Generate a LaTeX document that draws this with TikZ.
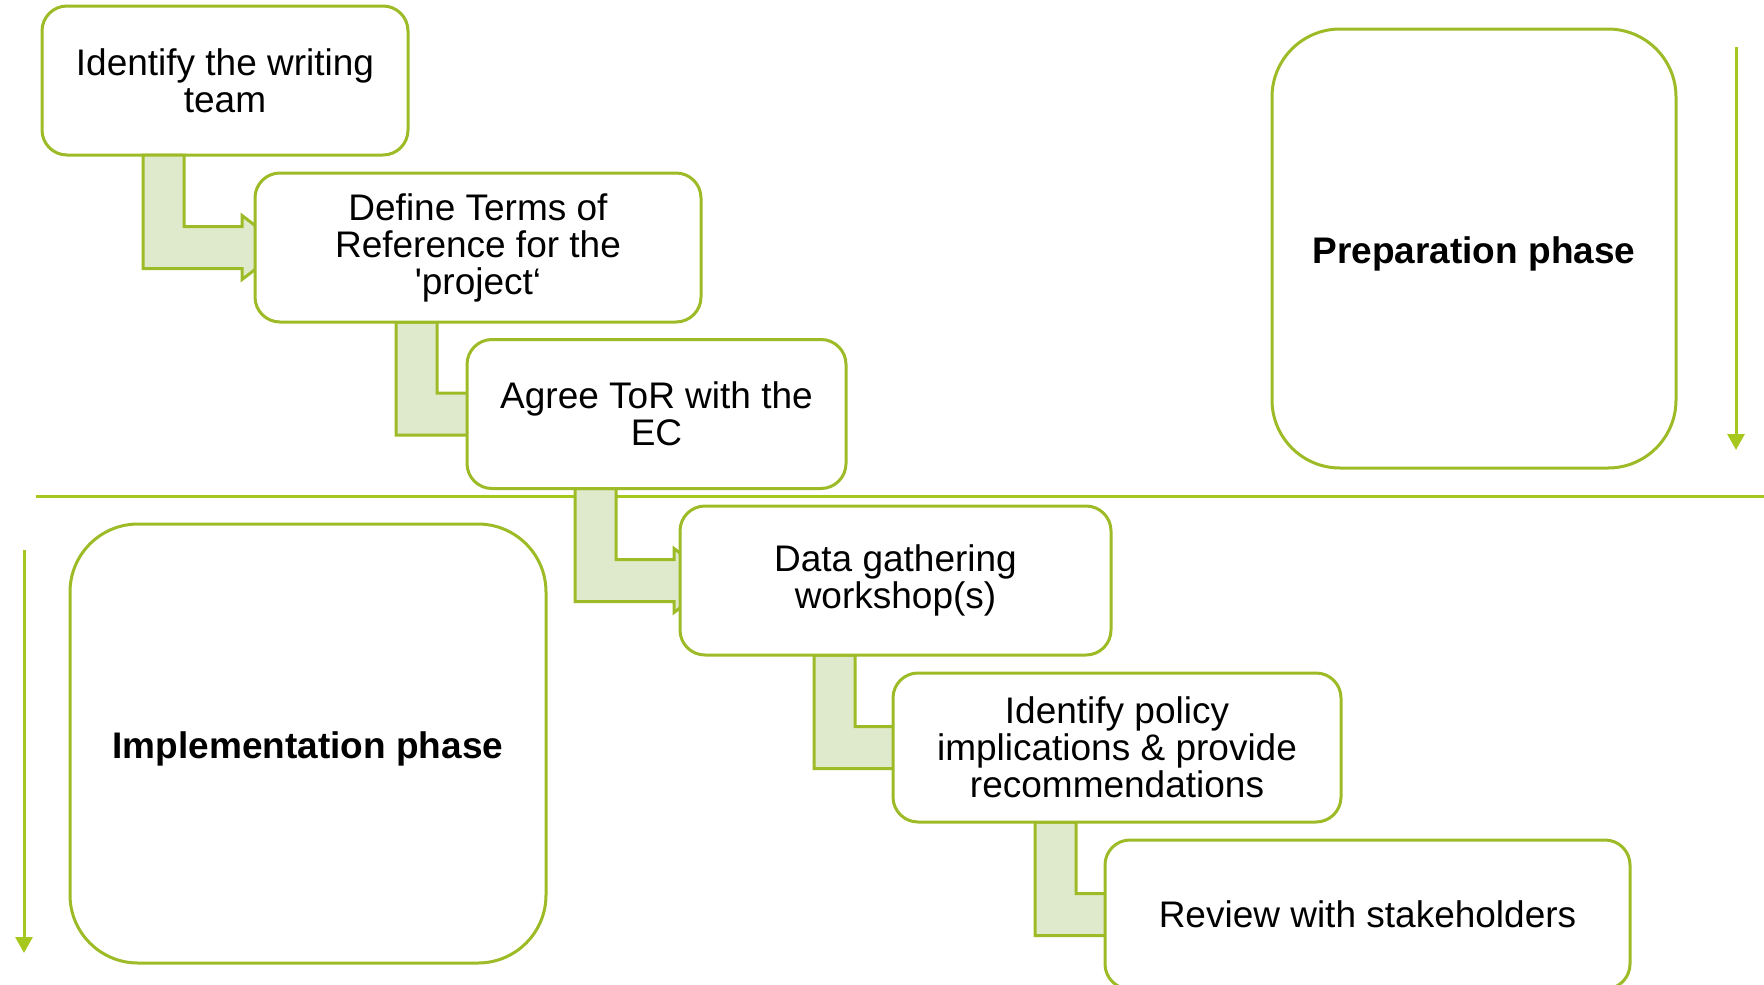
\documentclass[tikz,border=0pt]{standalone}
\usepackage{fontspec}
\setmainfont{Liberation Sans}
\usetikzlibrary{calc,arrows.meta}
\definecolor{boxline}{RGB}{156,187,38}
\definecolor{arrline}{RGB}{166,200,30}
\definecolor{lfill}{RGB}{223,234,204}
\tikzset{
  stepbox/.style={draw=boxline, line width=3pt, fill=white, rounded corners=25pt,
    align=center, inner sep=0pt, outer sep=0pt, minimum height=149pt, font=\fontsize{37}{37}\selectfont},
  phasebox/.style={draw=boxline, line width=3pt, rounded corners=68pt,
    align=center, inner sep=0pt, outer sep=0pt, minimum width=#1, minimum height=439pt},
  phaselabel/.style={font=\fontsize{37}{37}\selectfont\bfseries, inner sep=0pt},
  barrow/.style={draw=boxline, line width=3pt, fill=lfill, line join=miter},
  flowarrow/.style={draw=arrline, line width=3pt, -{Triangle[width=17pt,length=16pt]}},
}
\newcommand{\bentarr}[4]{%
  \filldraw[barrow] ($(#1.south west)+(#3,0)$) -- ($(#1.south west)+(#3+41,0)$)
    |- ($(#2.west)+(#4,-21)$) -- ++(0,-11) -- ($(#2.west)+(#4+42,0)$)
    -- ($(#2.west)+(#4,32)$) -- ++(0,-11) -| ($(#1.south west)+(#3,0)$) -- cycle;}
\begin{document}
\begin{tikzpicture}[x=1pt,y=-1pt]
\useasboundingbox (0,0) rectangle (1764,985);
% phase boxes
\node[phasebox=404pt] (prep) at (1474,248.5) {};
\node[phaselabel] (preplabel) at ($(prep.center)+(0,5.5)$) {Preparation phase};
\node[phasebox=476pt] (impl) at (308,743.5) {};
\node[phaselabel] (impllabel) at ($(impl.center)+(0,5.5)$) {Implementation phase};
% separator and phase arrows
\coordinate (sepL) at (36,496);
\coordinate (sepR) at (1764,496);
\draw[draw=arrline, line width=3pt] (sepL) -- (sepR);
\coordinate (pa1) at (1736,47);
\coordinate (pa2) at (1736,450);
\draw[flowarrow] (pa1) -- (pa2);
\coordinate (ia1) at (24,550);
\coordinate (ia2) at (24,953);
\draw[flowarrow] (ia1) -- (ia2);
% step box positions
\path (225,80.5) coordinate (c1) (478,247.5) coordinate (c2) (656.5,414) coordinate (c3)
      (895.5,580.5) coordinate (c4) (1117,747.5) coordinate (c5) (1367.5,914.5) coordinate (c6);
\node[stepbox, minimum width=366pt] (b1) at (c1) {Identify the writing\\team};
\node[stepbox, minimum width=446pt, draw=none, fill=none] (b2) at (c2) {};
\node[stepbox, minimum width=379pt, draw=none, fill=none] (b3) at (c3) {};
\node[stepbox, minimum width=431pt, draw=none, fill=none] (b4) at (c4) {};
\node[stepbox, minimum width=448pt, draw=none, fill=none] (b5) at (c5) {};
\node[stepbox, minimum width=525pt, draw=none, fill=none] (b6) at (c6) {};
\bentarr{b1}{b2}{101}{-13}
\bentarr{b2}{b3}{141}{2}
\bentarr{b3}{b4}{108}{-6}
\bentarr{b4}{b5}{134}{2}
\bentarr{b5}{b6}{142}{2}
\node[stepbox, minimum width=446pt] at (b2) {Define Terms of\\Reference for the\\\textquotesingle project‘};
\node[stepbox, minimum width=379pt] at (b3) {Agree ToR with the\\EC};
\node[stepbox, minimum width=431pt] at (b4) {Data gathering\\workshop(s)};
\node[stepbox, minimum width=448pt] at (b5) {Identify policy\\implications \& provide\\recommendations};
\node[stepbox, minimum width=525pt] at (b6) {Review with stakeholders};
\end{tikzpicture}
\end{document}
